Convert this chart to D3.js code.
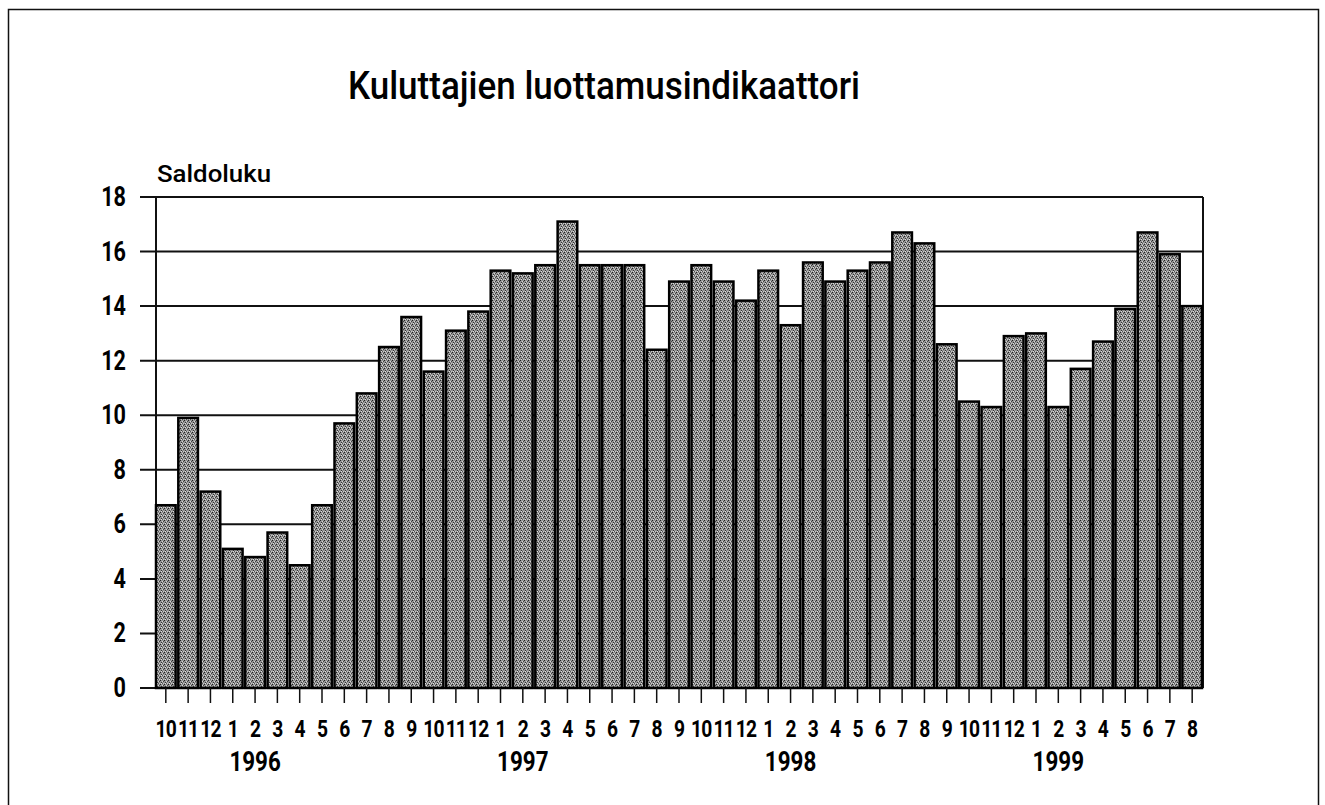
<!DOCTYPE html>
<html lang="fi">
  <head>
    <meta charset="utf-8">
    <title>Kuluttajien luottamusindikaattori</title>
    <script src="https://cdnjs.cloudflare.com/ajax/libs/d3/7.8.5/d3.min.js"></script>
    <style>
      body { margin: 0; background: #fff; }
      text { font-family: 'Roboto', 'Liberation Sans', sans-serif; fill: #000; }
    </style>
  </head>
  <body>
    <div id="chart"></div>

    <script type="text/javascript">
      // months 10/1995 .. 8/1999
      let months = [10, 11, 12,
                    1, 2, 3, 4, 5, 6, 7, 8, 9, 10, 11, 12,
                    1, 2, 3, 4, 5, 6, 7, 8, 9, 10, 11, 12,
                    1, 2, 3, 4, 5, 6, 7, 8, 9, 10, 11, 12,
                    1, 2, 3, 4, 5, 6, 7, 8];
      let values = [6.7, 9.9, 7.2,
                    5.1, 4.8, 5.7, 4.5, 6.7, 9.7, 10.8, 12.5, 13.6, 11.6, 13.1, 13.8,
                    15.3, 15.2, 15.5, 17.1, 15.5, 15.5, 15.5, 12.4, 14.9, 15.5, 14.9, 14.2,
                    15.3, 13.3, 15.6, 14.9, 15.3, 15.6, 16.7, 16.3, 12.6, 10.5, 10.3, 12.9,
                    13.0, 10.3, 11.7, 12.7, 13.9, 16.7, 15.9, 14.0];
      // year label sits under the February bar of each year
      let years = ['1996', '1997', '1998', '1999'];
      let yearAt = [4, 16, 28, 40];
      let yTicks = [0, 2, 4, 6, 8, 10, 12, 14, 16, 18];

      let W = 1325, H = 805;
      let margin = {top: 197, left: 156, right: 122, bottom: 117};

      let svg = d3.select('#chart').append('svg')
        .attr('width', W)
        .attr('height', H);

      // halftone-ish fill for bars
      let pat = svg.append('defs').append('pattern')
        .attr('id', 'dots')
        .attr('patternUnits', 'userSpaceOnUse')
        .attr('width', 4).attr('height', 4);
      pat.append('rect').attr('width', 4).attr('height', 4).attr('fill', '#959595');
      [[0, 0, '#222'], [2, 1, '#d6d6d6'], [1, 2, '#333'], [3, 3, '#c8c8c8'], [3, 1, '#444'], [1, 3, '#e0e0e0'], [2, 3, '#555']]
        .forEach(p => pat.append('rect').attr('x', p[0]).attr('y', p[1])
          .attr('width', 1).attr('height', 1).attr('fill', p[2]));

      // condensed text: squeeze glyphs horizontally
      function ctext(g, px, py, sx) {
        return g.append('text')
          .attr('transform', 'translate(' + px + ',' + py + ') scale(' + sx + ',1)');
      }

      // outer frame
      svg.append('rect')
        .attr('x', 8.5).attr('y', 9.5)
        .attr('width', 1310).attr('height', 830)
        .attr('fill', 'none')
        .attr('stroke', '#111')
        .attr('stroke-width', 1.5);

      let x = d3.scaleBand()
        .domain(d3.range(values.length))
        .range([margin.left, W - margin.right - 1])
        .paddingInner(0.12)
        .paddingOuter(0);

      let y = d3.scaleLinear()
        .domain([0, 18])
        .range([H - margin.bottom, margin.top]);

      // title
      svg.append('text')
        .attr('x', 348).attr('y', 99)
        .attr('font-size', 38)
        .attr('font-weight', 500)
        .attr('textLength', 512)
        .attr('lengthAdjust', 'spacingAndGlyphs')
        .text('Kuluttajien luottamusindikaattori');

      svg.append('text')
        .attr('x', 157).attr('y', 182)
        .attr('font-size', 24)
        .attr('font-weight', 500)
        .attr('textLength', 114)
        .attr('lengthAdjust', 'spacingAndGlyphs')
        .text('Saldoluku');

      // gridlines
      svg.append('g')
        .selectAll('line')
        .data(yTicks)
        .join('line')
        .attr('x1', margin.left - 16)
        .attr('x2', W - margin.right)
        .attr('y1', d => y(d))
        .attr('y2', d => y(d))
        .attr('stroke', '#111')
        .attr('stroke-width', 2);

      // plot border (left + right)
      svg.append('line')
        .attr('x1', margin.left).attr('x2', margin.left)
        .attr('y1', y(18)).attr('y2', y(0))
        .attr('stroke', '#111').attr('stroke-width', 2);
      svg.append('line')
        .attr('x1', W - margin.right).attr('x2', W - margin.right)
        .attr('y1', y(18)).attr('y2', y(0))
        .attr('stroke', '#111').attr('stroke-width', 2);

      // y labels
      let yl = svg.append('g');
      yTicks.forEach(d => {
        ctext(yl, 126, y(d) + 9, 0.8)
          .attr('text-anchor', 'end')
          .attr('font-size', 27)
          .attr('font-weight', 'bold')
          .text(d);
      });

      // bars
      svg.append('g')
        .selectAll('rect')
        .data(values)
        .join('rect')
        .attr('x', (d, i) => x(i))
        .attr('y', d => y(d))
        .attr('width', x.bandwidth())
        .attr('height', d => y(0) - y(d))
        .attr('fill', 'url(#dots)')
        .attr('stroke', '#000')
        .attr('stroke-width', 2.5);

      // x ticks
      svg.append('g')
        .selectAll('line')
        .data(months)
        .join('line')
        .attr('x1', (d, i) => x(i) + x.bandwidth() / 2)
        .attr('x2', (d, i) => x(i) + x.bandwidth() / 2)
        .attr('y1', y(0))
        .attr('y2', y(0) + 15)
        .attr('stroke', '#111')
        .attr('stroke-width', 1.5);

      // month labels
      let ml = svg.append('g');
      months.forEach((d, i) => {
        ctext(ml, x(i) + x.bandwidth() / 2, 737, 0.8)
          .attr('text-anchor', 'middle')
          .attr('font-size', 24)
          .attr('font-weight', 'bold')
          .attr('letter-spacing', -1)
          .text(d);
      });

      // year labels
      let yrs = svg.append('g');
      years.forEach((d, i) => {
        ctext(yrs, x(yearAt[i]) + x.bandwidth() / 2, 771, 0.8)
          .attr('text-anchor', 'middle')
          .attr('font-size', 28)
          .attr('font-weight', 'bold')
          .text(d);
      });
    </script>
  </body>
</html>
